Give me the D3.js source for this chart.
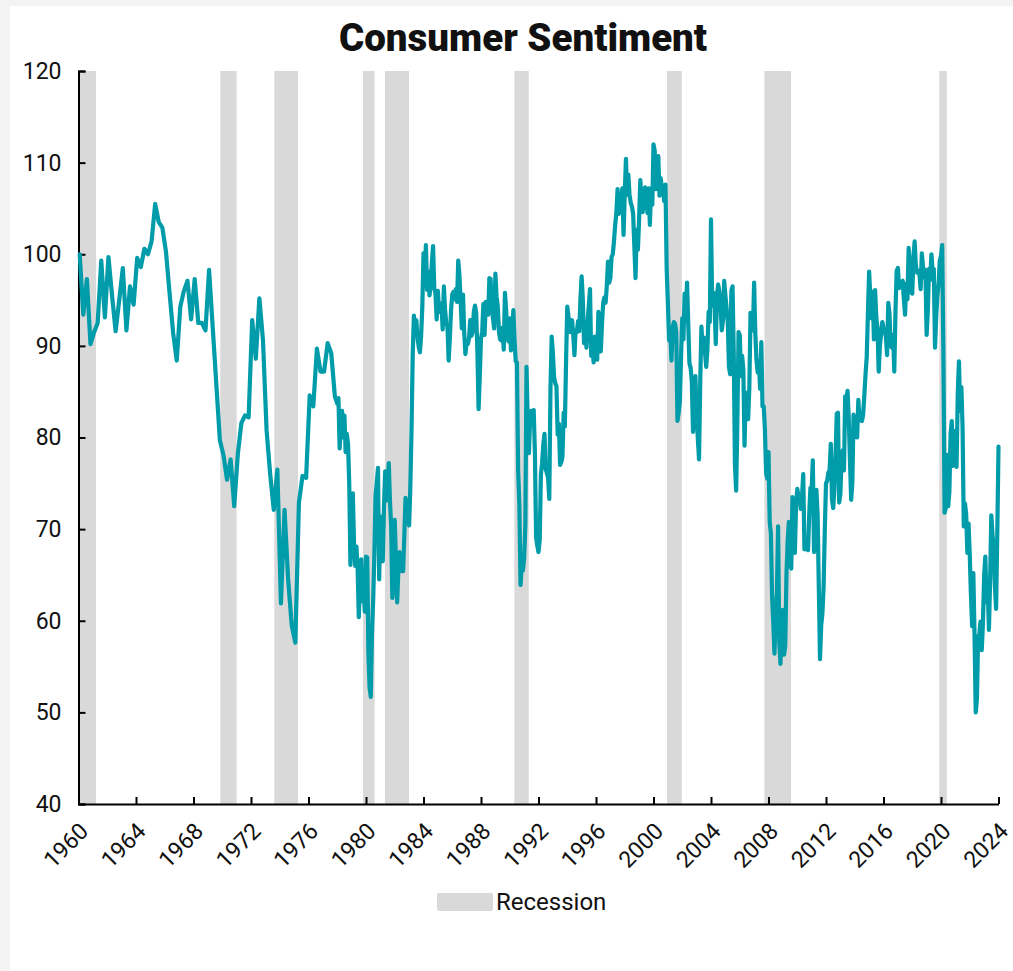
<!DOCTYPE html>
<html>
<head>
<meta charset="utf-8">
<script src="https://cdn.jsdelivr.net/npm/d3@7"></script>
<style>
  body { margin: 0; background: #f3f3f3; }
  svg text { font-family: Roboto, "Noto Sans", sans-serif; fill: #111; }
</style>
</head>
<body>
<div id="chart"></div>
<script>
// quarterly readings 1960-1977 (Feb, May, Aug, Nov)
const quarterMonths = [2, 5, 8, 11];
const quarterly1960s = [
  100.0, 93.4, 97.3, 90.2,
  91.5, 92.5, 99.3, 93.1,
  99.7, 95.5, 91.6, 95.0,
  98.5, 91.7, 96.5, 94.5,
  99.6, 98.6, 100.6, 100.0,
  101.4, 105.5, 103.5, 102.9,
  100.3, 95.8, 91.4, 88.4,
  94.3, 96.0, 97.1, 92.9,
  97.3, 92.5, 92.5, 91.7,
  98.3, 92.1, 85.9, 79.7
];
const quarterly1970s = [
  78.1, 75.4, 77.6, 72.5,
  78.2, 81.6, 82.4, 82.2,
  92.8, 88.6, 95.2, 90.6,
  80.8, 76.0, 72.1, 76.5,
  61.9, 72.1, 64.5, 59.5,
  57.6, 72.9, 75.8, 75.6,
  84.6, 83.4, 89.7, 87.2,
  87.2, 90.3, 89.2, 84.5
];

// monthly readings from Jan 1978
const monthly1978 = [
  83.7, 84.3, 78.8, 81.6, 82.9, 80.0, 82.4, 78.4, 80.4, 79.3, 75.0, 66.1,
  72.1, 73.9, 68.4, 66.0, 68.1, 65.8, 60.4, 64.5, 66.7, 62.1, 63.3, 61.0,
  67.0, 66.9, 56.5, 52.7, 51.7, 58.7, 62.3, 67.4, 73.7, 75.0, 76.7, 64.5,
  71.4, 66.9, 66.5, 72.4, 76.3, 73.1, 74.1, 77.2, 73.1, 70.3, 62.5, 64.3,
  71.0, 66.5, 62.0, 65.5, 67.5, 65.7, 65.4, 65.4, 69.3, 73.4, 72.1, 71.9,
  70.4, 74.6, 80.8, 89.1, 93.3, 92.2, 92.8, 90.9, 89.9, 89.3, 91.1, 94.2,
  100.1, 97.4, 101.0, 96.1, 98.1, 95.5, 96.6, 99.1, 100.9, 96.3, 95.7, 92.9,
  96.0, 93.7, 93.7, 94.6, 91.8, 96.5, 94.0, 92.4, 92.1, 88.4, 90.9, 93.9,
  95.6, 95.9, 95.1, 96.2, 94.8, 99.3, 97.7, 94.9, 91.9, 95.6, 91.4, 89.1,
  90.4, 90.2, 90.8, 92.8, 91.1, 91.5, 93.7, 94.4, 93.6, 89.3, 83.1, 86.8,
  90.8, 91.6, 94.6, 91.2, 94.8, 94.7, 93.4, 97.4, 97.3, 94.1, 93.0, 91.9,
  97.9, 95.4, 94.3, 91.5, 90.7, 90.6, 92.0, 89.6, 95.8, 93.9, 90.9, 90.5
];
const monthly1990 = [
  93.0, 89.5, 91.3, 93.9, 90.6, 88.3, 88.2, 76.4, 72.8, 63.9, 66.0, 65.5,
  66.8, 70.4, 87.7, 81.8, 78.3, 82.1, 82.9, 82.0, 83.0, 78.3, 69.1, 68.2,
  67.5, 68.8, 76.0, 77.2, 79.2, 80.4, 76.6, 76.1, 75.6, 73.3, 85.3, 91.0,
  89.3, 86.6, 85.9, 85.6, 80.3, 81.5, 77.0, 77.3, 77.9, 82.7, 81.2, 88.2,
  94.3, 93.2, 91.5, 92.6, 92.8, 91.2, 89.0, 91.7, 91.5, 92.7, 91.6, 95.1,
  97.6, 95.1, 90.3, 92.5, 89.8, 92.7, 94.4, 96.2, 88.9, 90.2, 88.2, 91.0,
  89.3, 88.5, 93.7, 92.7, 89.4, 92.4, 94.7, 95.3, 94.7, 96.5, 99.2, 96.9,
  97.4, 99.7, 100.0, 101.4, 103.2, 104.5, 107.1, 104.4, 106.0, 105.6, 107.2, 102.1,
  106.6, 110.4, 106.5, 108.7, 106.5, 105.6, 105.2, 104.4, 100.9, 97.4, 102.7, 100.5,
  103.9, 108.1, 105.7, 104.6, 106.8, 107.3, 106.0, 104.5, 107.2, 103.2, 107.2, 105.4
];
const monthly2000 = [
  112.0, 111.3, 107.1, 109.2, 110.7, 106.4, 108.3, 107.3, 106.8, 105.8, 107.6, 98.4,
  94.7, 90.6, 91.5, 88.4, 92.0, 92.6, 92.4, 91.5, 81.8, 82.7, 83.9, 88.8,
  93.0, 90.7, 95.7, 93.0, 96.9, 92.4, 88.1, 87.6, 86.1, 80.6, 84.2, 86.7,
  82.4, 79.9, 77.6, 86.0, 92.1, 89.7, 90.9, 89.3, 87.7, 89.6, 93.7, 92.6,
  103.8, 94.4, 95.8, 94.2, 90.2, 95.6, 96.7, 95.9, 94.2, 91.7, 92.8, 97.1,
  95.5, 94.1, 92.6, 87.7, 86.9, 96.0, 96.5, 89.1, 76.9, 74.2, 81.6, 91.5,
  91.2, 86.7, 88.9, 87.4, 79.1, 84.9, 84.7, 82.0, 85.4, 93.6, 92.1, 91.7,
  96.9, 91.3, 88.4, 87.1, 88.3, 85.3, 90.4, 83.4, 83.4, 80.9, 76.1, 75.5,
  78.4, 70.8, 69.5, 62.6, 59.8, 56.4, 61.2, 63.0, 70.3, 57.6, 55.3, 60.1,
  61.2, 56.3, 57.3, 65.1, 68.7, 70.8, 66.0, 65.7, 73.5, 70.6, 67.4, 72.5
];
const monthly2010 = [
  74.4, 73.6, 73.6, 72.2, 73.6, 76.0, 67.8, 68.9, 68.2, 67.7, 71.6, 74.5,
  74.2, 77.5, 67.5, 69.8, 74.3, 71.5, 63.7, 55.8, 59.5, 60.8, 63.7, 69.9,
  75.0, 75.3, 76.2, 76.4, 79.3, 73.2, 72.3, 74.3, 78.3, 82.6, 82.7, 72.9,
  73.8, 77.6, 78.6, 76.4, 84.5, 84.1, 85.1, 82.1, 77.5, 73.2, 75.1, 82.5,
  81.2, 81.6, 80.0, 84.1, 81.9, 82.5, 81.8, 82.5, 84.6, 86.9, 88.8, 93.6,
  98.1, 95.4, 93.0, 95.9, 90.7, 96.1, 93.1, 91.9, 87.2, 90.0, 91.3, 92.6,
  92.0, 91.7, 91.0, 89.0, 94.7, 93.5, 90.0, 89.8, 91.2, 87.2, 93.8, 98.2,
  98.5, 96.3, 96.9, 97.0, 97.1, 95.1, 93.4, 96.8, 95.1, 100.7, 98.5, 95.9,
  95.7, 99.7, 101.4, 98.8, 98.0, 98.2, 97.9, 96.2, 100.1, 98.6, 97.5, 98.3,
  91.2, 93.8, 98.4, 97.2, 100.0, 98.2, 98.4, 89.8, 93.2, 95.5, 96.8, 99.3
];
const monthly2020 = [
  99.8, 101.0, 89.1, 71.8, 72.3, 78.1, 72.5, 74.1, 80.4, 81.8, 76.9, 80.7,
  79.0, 76.8, 84.9, 88.3, 82.9, 85.5, 81.2, 70.3, 72.8, 71.7, 67.4, 70.6,
  67.2, 62.8, 59.4, 65.2, 58.4, 50.0, 51.5, 58.2, 58.6, 59.9, 56.8, 59.7,
  64.9, 67.0, 62.0, 63.7, 59.0, 64.4, 71.5, 69.4, 67.9, 63.8, 61.3, 69.7,
  79.0
];

// recession shading (decimal years)
const recessionStart = [1960.1, 1969.86, 1973.62, 1979.79, 1981.32, 1990.32, 2000.94, 2007.72, 2019.88];
const recessionEnd   = [1961.22, 1971.0, 1975.27, 1980.6, 1982.99, 1991.32, 2001.97, 2009.57, 2020.4];

const yTicks = [40, 50, 60, 70, 80, 90, 100, 110, 120];
const xTicks = d3.range(1960, 2025, 4);

const width = 1013,
  height = 971;

// build the series
const series = [];
quarterly1960s.concat(quarterly1970s).forEach((v, i) => {
  const year = 1960 + Math.floor(i / 4);
  series.push({ t: year + (quarterMonths[i % 4] - 1) / 12, v: v });
});
monthly1978
  .concat(monthly1990, monthly2000, monthly2010, monthly2020)
  .forEach((v, i) => series.push({ t: 1978 + i / 12, v: v }));

const recessions = recessionStart.map((s, i) => ({ s: s, e: recessionEnd[i] }));

const svg = d3
  .select("#chart")
  .append("svg")
  .attr("width", width)
  .attr("height", height);

svg
  .append("rect")
  .attr("x", 10)
  .attr("y", 6)
  .attr("width", width)
  .attr("height", height)
  .attr("fill", "#fff");

const x = d3.scaleLinear().domain([1960, 2024]).range([78.5, 998.5]);
const y = d3.scaleLinear().domain([40, 120]).range([804, 71]);

svg
  .append("text")
  .text("Consumer Sentiment")
  .attr("x", 523)
  .attr("y", 51)
  .attr("text-anchor", "middle")
  .style("font-size", "38.5px")
  .style("font-weight", 900);

svg
  .append("g")
  .selectAll("rect")
  .data(recessions)
  .enter()
  .append("rect")
  .attr("x", (d) => x(d.s))
  .attr("width", (d) => x(d.e) - x(d.s))
  .attr("y", y(120))
  .attr("height", y(40) - y(120))
  .attr("fill", "#d9d9d9");

const yAxis = d3.axisLeft(y).tickValues(yTicks).tickSize(-7).tickPadding(17);
const xAxis = d3
  .axisBottom(x)
  .tickValues(xTicks)
  .tickFormat(d3.format("d"))
  .tickSize(-7)
  .tickSizeOuter(0);

const gy = svg.append("g").attr("transform", "translate(" + x(1960) + ",0)").call(yAxis);
gy.select(".domain").attr("stroke-width", 2);
gy.selectAll(".tick line").attr("stroke-width", 2);
gy.selectAll("text").style("font-size", "23px").style("font-family", "Roboto");

const gx = svg.append("g").attr("transform", "translate(0," + y(40) + ")").call(xAxis);
gx.select(".domain").attr("stroke-width", 2);
gx.selectAll(".tick line").attr("stroke-width", 2);
gx.selectAll("text")
  .style("font-size", "23px")
  .style("font-family", "Roboto")
  .attr("text-anchor", "end")
  .attr("x", 0)
  .attr("y", 0)
  .attr("dy", "0.35em")
  .attr("transform", "translate(5,23) rotate(-45)");

const line = d3
  .line()
  .x((d) => x(d.t))
  .y((d) => y(d.v));

svg
  .append("path")
  .datum(series)
  .attr("d", line)
  .attr("fill", "none")
  .attr("stroke", "#009ca9")
  .attr("stroke-width", 4.2)
  .attr("stroke-linejoin", "round")
  .attr("stroke-linecap", "round");

// legend
const legend = svg.append("g").attr("transform", "translate(437,893)");
legend
  .append("rect")
  .attr("width", 56)
  .attr("height", 18)
  .attr("rx", 2)
  .attr("fill", "#d9d9d9");
legend
  .append("text")
  .text("Recession")
  .attr("x", 59)
  .attr("y", 17)
  .style("font-size", "24px");
</script>
</body>
</html>
